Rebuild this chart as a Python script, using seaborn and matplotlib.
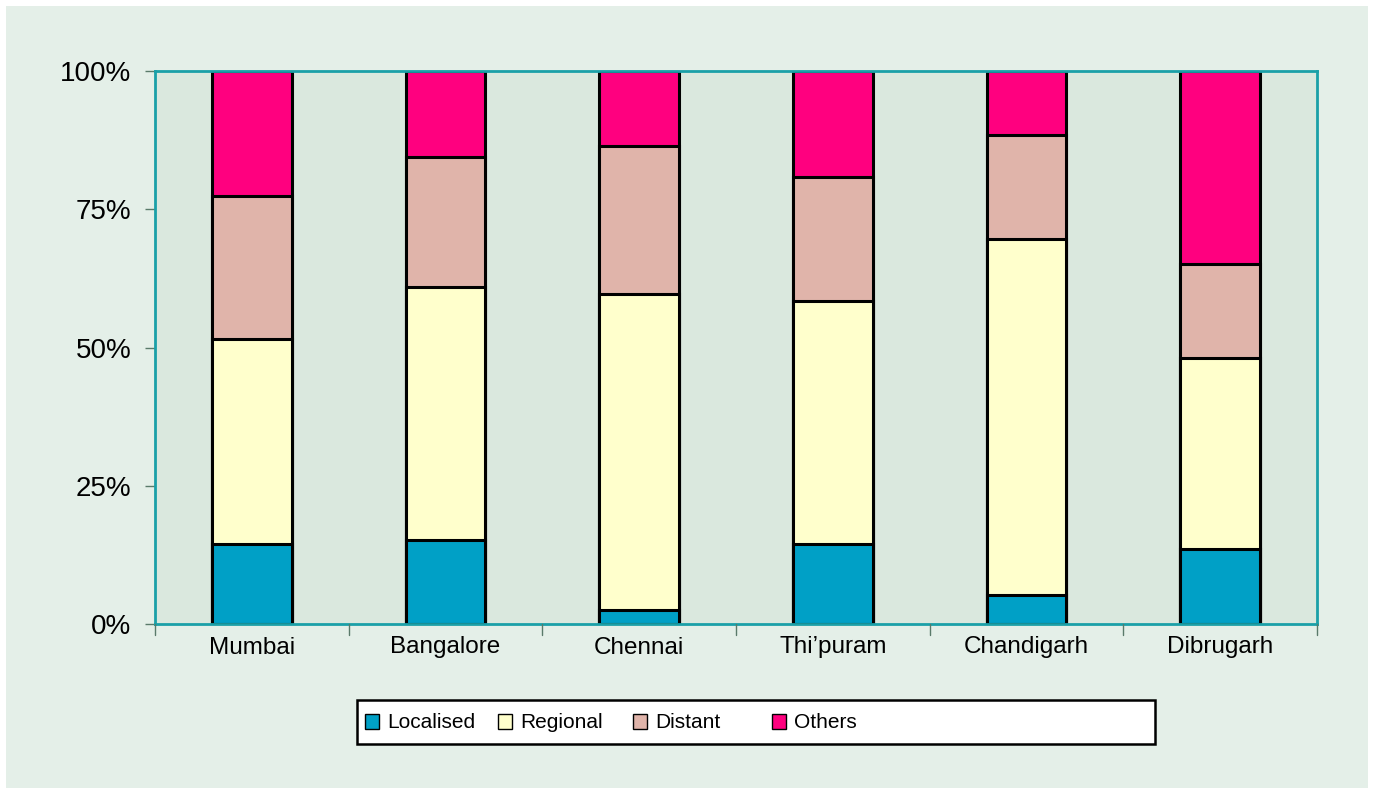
import numpy as np
import pandas as pd
import matplotlib
matplotlib.use("Agg")
import matplotlib.pyplot as plt
import seaborn as sns
from matplotlib.patches import Rectangle

# === Data (percent shares) ===
cities = ["Mumbai", "Bangalore", "Chennai", "Thi\u2019puram", "Chandigarh", "Dibrugarh"]
localised = [14.5, 15.2, 2.5, 14.5, 5.2, 13.6]
regional = [37.0, 45.7, 57.2, 43.9, 64.4, 34.5]
distant = [25.9, 23.5, 26.7, 22.4, 18.8, 17.0]
others = [22.6, 15.6, 13.6, 19.2, 11.6, 34.9]
series_names = ["Localised", "Regional", "Distant", "Others"]
colors = ["#00A0C6", "#FFFFCC", "#E0B4AA", "#FF007F"]
yticks = [0, 25, 50, 75, 100]
ytick_labels = ["0%", "25%", "50%", "75%", "100%"]

df = pd.DataFrame({
    "City": cities,
    "Localised": localised,
    "Regional": regional,
    "Distant": distant,
    "Others": others,
})
cum = df[series_names].cumsum(axis=1)
cum["City"] = df["City"]

sns.set_theme(style="white")
plt.rcParams["font.family"] = ["Liberation Sans", "DejaVu Sans"]

W, H = 1374, 794
fig = plt.figure(figsize=(W / 100, H / 100), dpi=100, facecolor="white")
# light green panel behind everything
fig.patches.append(Rectangle((6 / W, 6 / H), 1362 / W, 782 / H,
                             transform=fig.transFigure, facecolor="#E4EFE8",
                             edgecolor="none", zorder=-10))
ax = fig.add_axes([155 / W, 170 / H, 1162 / W, 553 / H])
ax.set_facecolor("#DAE8DE")

# stacked bars: draw cumulative totals from the top down
for name, col in zip(reversed(series_names), reversed(colors)):
    sns.barplot(data=cum, x="City", y=name, color=col, saturation=1,
                width=0.41, edgecolor="black", linewidth=2.2, ax=ax)

ax.set_ylim(0, 100)
ax.set_xlim(-0.5, len(cities) - 0.5)
ax.set_yticks(yticks)
ax.set_yticklabels(ytick_labels, fontsize=20, color="black")
ax.set_xticks(range(len(cities)))
ax.set_xticklabels(cities, fontsize=17.5, color="black")
ax.set_xlabel("")
ax.set_ylabel("")

# Excel-style ticks between categories
ax.tick_params(axis="x", length=0, pad=9)
ax.tick_params(axis="y", length=7, width=1, color="#5A7A6A", left=True, pad=10)
for b in np.arange(-0.5, len(cities), 1):
    ax.plot([b, b], [0, -1.9], color="#5A7A6A", lw=1, clip_on=False, zorder=5)

for side in ["top", "bottom", "left", "right"]:
    ax.spines[side].set_color("#1AA0A8")
    ax.spines[side].set_linewidth(2)

# legend box (Excel-style, wide frame with fixed-spaced entries)
fig.patches.append(Rectangle((357 / W, 1 - 744 / H), 798 / W, 44 / H,
                             transform=fig.transFigure, facecolor="white",
                             edgecolor="black", linewidth=1.8, zorder=1))
leg_x = [365, 498, 633, 772]
for x, name, col in zip(leg_x, series_names, colors):
    fig.patches.append(Rectangle((x / W, 1 - 729 / H), 14 / W, 15 / H,
                                 transform=fig.transFigure, facecolor=col,
                                 edgecolor="black", linewidth=1, zorder=2))
    fig.text((x + 22) / W, 1 - 722 / H, name, fontsize=15, va="center",
             ha="left", color="black", zorder=3)

plt.savefig("out.png", dpi=100, facecolor=fig.get_facecolor())
plt.close()
